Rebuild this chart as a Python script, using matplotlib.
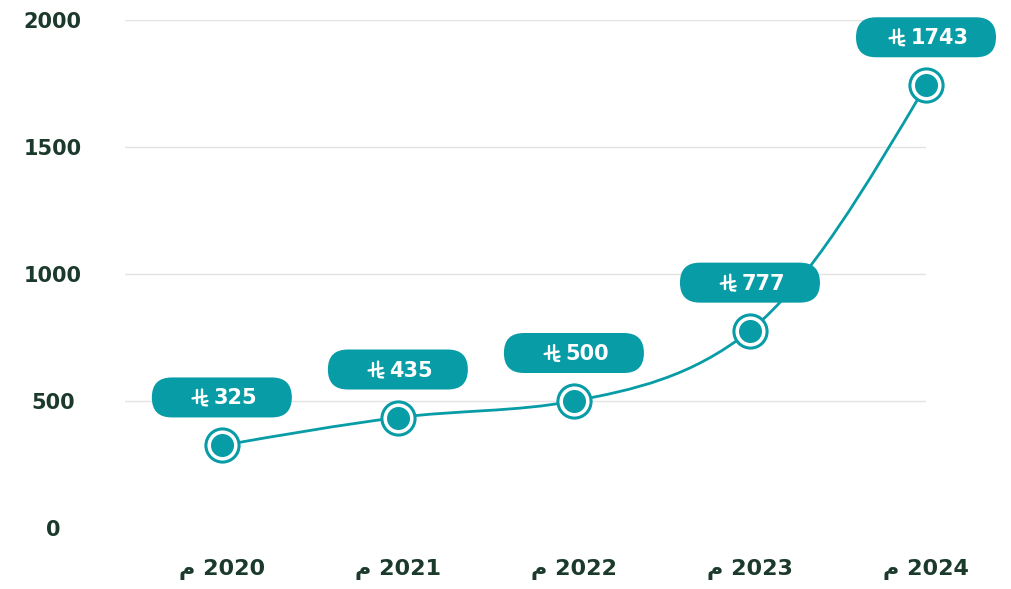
import matplotlib
matplotlib.use('Agg')
import numpy as np
import matplotlib.pyplot as plt
from matplotlib.patches import FancyBboxPatch, PathPatch
from matplotlib.path import Path
from matplotlib.lines import Line2D
from matplotlib.transforms import IdentityTransform

years = ['2020', '2021', '2022', '2023', '2024']
values = [325, 435, 500, 777, 1743]
y_ticks = [0, 500, 1000, 1500, 2000]

teal = '#089ca6'
dark = '#1b3a2c'
grid = '#e3e3e3'

plt.rcParams['font.family'] = ['DejaVu Sans']


def monotone_path(xs, ys):
    # cubic bezier through the points, monotone in x (like d3 curveMonotoneX)
    xs = np.asarray(xs, float)
    ys = np.asarray(ys, float)
    n = len(xs)
    h = np.diff(xs)
    s = np.diff(ys) / h
    t = np.zeros(n)
    for i in range(1, n - 1):
        p = (s[i - 1] * h[i] + s[i] * h[i - 1]) / (h[i - 1] + h[i])
        t[i] = (np.sign(s[i - 1]) + np.sign(s[i])) * min(abs(s[i - 1]), abs(s[i]), 0.5 * abs(p))
    t[0] = (3 * s[0] - t[1]) / 2
    t[-1] = (3 * s[-1] - t[-2]) / 2
    verts = [(xs[0], ys[0])]
    codes = [Path.MOVETO]
    for i in range(n - 1):
        dx = h[i] / 3
        verts += [(xs[i] + dx, ys[i] + dx * t[i]),
                  (xs[i + 1] - dx, ys[i + 1] - dx * t[i + 1]),
                  (xs[i + 1], ys[i + 1])]
        codes += [Path.CURVE4] * 3
    return Path(verts, codes)


fig = plt.figure(figsize=(10.11, 5.89), dpi=100)
ax = fig.add_axes([125 / 1011, 1 - 528 / 589, (926 - 125) / 1011, (528 - 20) / 589])

x = list(range(len(years)))
ax.add_patch(PathPatch(monotone_path(x, values), facecolor='none', edgecolor=teal,
                       lw=2.0, zorder=2, clip_on=False))
ax.scatter(x, values, s=680, color=teal, zorder=4, linewidths=0, clip_on=False)
ax.scatter(x, values, s=470, color='white', zorder=5, linewidths=0, clip_on=False)
ax.scatter(x, values, s=275, color=teal, zorder=6, linewidths=0, clip_on=False)

ax.set_xlim(-0.55, 4.0)
ax.set_ylim(0, 2000)
ax.set_yticks(y_ticks)
ax.set_yticklabels([str(v) for v in y_ticks])
ax.set_xticks(x)
ax.set_xticklabels(['\u0645 ' + y for y in years])
for s in ax.spines.values():
    s.set_visible(False)
ax.grid(axis='y', color=grid, lw=1)
ax.yaxis.get_gridlines()[0].set_visible(False)
ax.set_axisbelow(True)
ax.tick_params(length=0, colors=dark, labelsize=15)
ax.tick_params(axis='y', pad=52)
ax.tick_params(axis='x', pad=22, labelsize=16)
for t in ax.get_yticklabels():
    t.set_ha('center')
    t.set_fontweight('bold')
for t in ax.get_xticklabels():
    t.set_fontweight('bold')

fig.canvas.draw()
renderer = fig.canvas.get_renderer()
idt = IdentityTransform()

# pill labels with riyal sign above each point
for xi, v in zip(x, values):
    px, py = ax.transData.transform((xi, v))
    cy = py + 48
    box = FancyBboxPatch((px - 70, cy - 20), 140, 40,
                         boxstyle='round,pad=0,rounding_size=20',
                         transform=idt, facecolor=teal, edgecolor='none',
                         zorder=7, clip_on=False)
    fig.patches.append(box)
    txt = fig.text(0, 0, str(v), color='white', fontsize=15, fontweight='bold',
                   ha='left', va='center', transform=idt, zorder=9)
    w = txt.get_window_extent(renderer).width
    gw, gap = 15, 6
    left = px - (gw + gap + w) / 2 + 3
    txt.set_position((left + gw + gap, cy - 1))
    # riyal sign drawn as strokes
    gx, gy = left, cy - 9
    strokes = [
        [(4.5, 3), (4.5, 16)],
        [(9.5, 17), (9.5, 3.5), (10.5, 1.5), (14.5, 1)],
        [(0, 8), (14, 10.5)],
        [(9.5, 4), (15, 5.5)],
    ]
    for st in strokes:
        xs = [gx + p[0] for p in st]
        ys = [gy + p[1] for p in st]
        fig.lines.append(Line2D(xs, ys, color='white', lw=1.7, transform=idt,
                                zorder=9, solid_capstyle='round'))

fig.savefig('out.png', dpi=100)
